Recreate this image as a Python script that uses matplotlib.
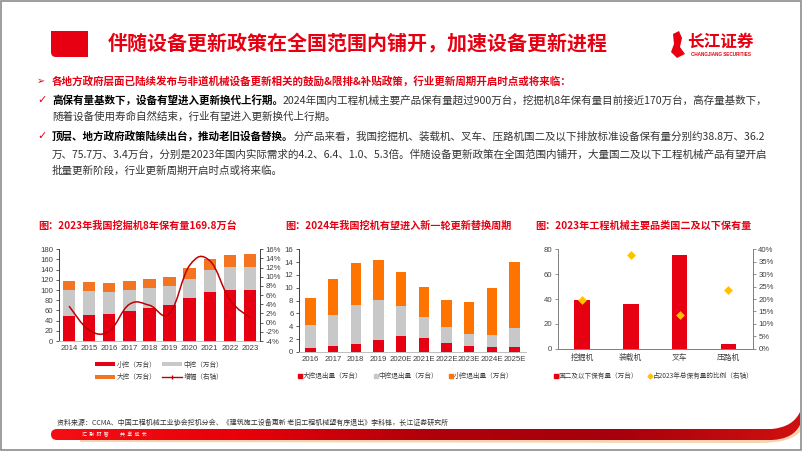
import matplotlib
matplotlib.use('Agg')
import matplotlib.pyplot as plt
import numpy as np
from matplotlib.patches import Rectangle, PathPatch, Polygon
from matplotlib.path import Path
from matplotlib.lines import Line2D
from matplotlib.patches import Patch
from matplotlib.colors import LinearSegmentedColormap

# ---------------- data ----------------
years1 = ['2014', '2015', '2016', '2017', '2018', '2019', '2020', '2021', '2022', '2023']
small1 = [49, 51, 53, 58, 64, 70, 84, 96, 100, 101]
mid1 = [51, 47, 43, 42, 40, 37, 37, 43, 45, 44]
large1 = [18, 18, 18, 18, 18, 19, 22, 22, 23, 25]
growth1 = [3.6, -1.6, -1.8, 4.0, 3.8, 2.0, 12.5, 13.5, 5.0, 1.1]

years2 = ['2016', '2017', '2018', '2019', '2020E', '2021E', '2022E', '2023E', '2024E', '2025E']
large2 = [0.7, 1.0, 1.3, 1.9, 2.5, 2.2, 1.4, 1.0, 0.8, 0.8]
mid2 = [3.5, 4.7, 6.1, 6.2, 4.7, 3.2, 2.5, 1.8, 1.85, 2.9]
small2 = [4.2, 5.6, 6.4, 6.3, 5.3, 4.8, 4.2, 5.0, 7.25, 10.3]

cats3 = ['挖掘机', '装载机', '叉车', '压路机']
stock3 = [38.8, 36.2, 75.7, 3.4]
share3 = [19.5, 37.8, 13.5, 23.7]

# ---------------- setup ----------------
W, H = 802, 451
fig = plt.figure(figsize=(W / 100, H / 100), dpi=100)
CJK = ['Noto Sans CJK SC', 'DejaVu Sans']
NUM = ['Liberation Sans', 'Noto Sans CJK SC']
plt.rcParams['font.family'] = CJK
plt.rcParams['axes.unicode_minus'] = False

RED = '#E60012'
DRED = '#C00000'
GRAY = '#C8C8C8'
ORANGE1 = '#F47421'
ORANGE2 = '#FF7300'
YEL = '#FFC000'
TXT = '#333333'


def fx(x):
    return x / W


def fy(y):
    return 1 - y / H


def ax_box(l, t, r, b):
    return [l / W, 1 - b / H, (r - l) / W, (b - t) / H]


bg = fig.add_axes([0, 0, 1, 1], zorder=0)
bg.set_xlim(0, W)
bg.set_ylim(H, 0)
bg.axis('off')

bg.add_patch(Rectangle((0.5, 0.5), W - 1.5, H - 1.5, fill=False, ec='#8c8c8c', lw=1.2))

# title red block
sq = Path([(51, 31), (88, 31), (88, 57), (56, 57), (51, 57), (51, 52), (51, 31)],
          [Path.MOVETO, Path.LINETO, Path.LINETO, Path.LINETO, Path.CURVE3, Path.CURVE3, Path.CLOSEPOLY])
bg.add_patch(PathPatch(sq, fc=RED, ec='none'))
fig.text(fx(108), fy(44), '伴随设备更新政策在全国范围内铺开，加速设备更新进程', fontsize=14.4,
         fontweight='bold', color=RED, va='center', ha='left', family=CJK)

# logo
bg.add_patch(Polygon([(673, 34), (679, 31), (682, 38), (680, 47), (685, 54), (677, 58), (671, 52), (674, 44)],
                     closed=True, fc=RED, ec='none'))
fig.text(fx(687), fy(42), '长江证券', fontsize=12, fontweight='bold', color=RED, va='center', ha='left', family=CJK)
fig.text(fx(691), fy(54), 'CHANGJIANG SECURITIES', fontsize=3.3, fontweight='bold', color=RED,
         va='center', ha='left', family=NUM)

renderer = fig.canvas.get_renderer()


def runs(x, y, parts, size=7.6):
    for txt, bold, color in parts:
        t = fig.text(fx(x), fy(y), txt, fontsize=size, fontweight='bold' if bold else 'normal',
                     color=color, va='center', ha='left', family=CJK)
        bb = t.get_window_extent(renderer)
        x += bb.width


fig.text(fx(37), fy(81), '➢', fontsize=7, color=RED, va='center', ha='left', family=['DejaVu Sans'])
runs(52, 81, [('各地方政府层面已陆续发布与非道机械设备更新相关的鼓励&限排&补贴政策，行业更新周期开启时点或将来临：', True, RED)])
fig.text(fx(37), fy(100), '✓', fontsize=8, color=RED, va='center', ha='left', family=['DejaVu Sans'])
runs(52, 100, [('高保有量基数下，设备有望进入更新换代上行期。', True, '#000000'),
               ('2024年国内工程机械主要产品保有量超过900万台，挖掘机8年保有量目前接近170万台，高存量基数下，', False, TXT)])
runs(52, 117, [('随着设备使用寿命自然结束，行业有望进入更新换代上行期。', False, TXT)])
fig.text(fx(37), fy(136), '✓', fontsize=8, color=RED, va='center', ha='left', family=['DejaVu Sans'])
runs(52, 136, [('顶层、地方政府政策陆续出台，推动老旧设备替换。', True, '#000000'),
               ('分产品来看，我国挖掘机、装载机、叉车、压路机国二及以下排放标准设备保有量分别约38.8万、36.2', False, TXT)])
runs(52, 154, [('万、75.7万、3.4万台，分别是2023年国内实际需求的4.2、6.4、1.0、5.3倍。伴随设备更新政策在全国范围内铺开，大量国二及以下工程机械产品有望开启', False, TXT)])
runs(52, 171, [('批量更新阶段，行业更新周期开启时点或将来临。', False, TXT)])

# chart titles
for xx, tt in [(38, '图：2023年我国挖掘机8年保有量169.8万台'),
               (285, '图：2024年我国挖机有望进入新一轮更新替换周期'),
               (535, '图：2023年工程机械主要品类国二及以下保有量')]:
    fig.text(fx(xx), fy(226), tt, fontsize=7.3, fontweight='bold', color=RED, va='center', ha='left', family=CJK)

TICKFS = 5.6
LEGFS = 4.8


def style_ticks(ax):
    for lab in ax.get_xticklabels() + ax.get_yticklabels():
        lab.set_family(NUM)
        lab.set_fontsize(TICKFS)
        lab.set_color('#404040')


# ---------------- chart 1 ----------------
ax1 = fig.add_axes(ax_box(59, 249.3, 260, 341), zorder=2)
x1 = np.arange(len(years1))
b1 = np.array(small1)
b2 = b1 + np.array(mid1)
ax1.bar(x1, small1, width=0.62, color=RED, zorder=2)
ax1.bar(x1, mid1, bottom=b1, width=0.62, color=GRAY, zorder=2)
ax1.bar(x1, large1, bottom=b2, width=0.62, color=ORANGE1, zorder=2)
ax1.set_xlim(-0.5, len(years1) - 0.5)
ax1.set_ylim(0, 180)
ax1.set_yticks(range(0, 181, 20))
ax1.set_xticks(x1)
ax1.set_xticklabels(years1)
ax1.spines['top'].set_visible(False)
ax1.spines['right'].set_visible(False)
ax1.spines['left'].set_color('#404040')
ax1.spines['left'].set_linewidth(0.7)
ax1.spines['bottom'].set_color('#bfbfbf')
ax1.spines['bottom'].set_linewidth(0.7)
ax1.tick_params(axis='y', length=2, width=0.6, pad=2, color='#404040')
ax1.tick_params(axis='x', length=0, pad=3)
ax1.patch.set_alpha(0)
style_ticks(ax1)

ax1r = ax1.twinx()
ax1r.set_ylim(-4, 16)
ax1r.set_yticks(range(-4, 17, 2))
ax1r.set_yticklabels([f'{v}%' for v in range(-4, 17, 2)])
for s in ['top', 'left', 'bottom']:
    ax1r.spines[s].set_visible(False)
ax1r.spines['right'].set_color('#404040')
ax1r.spines['right'].set_linewidth(0.7)
ax1r.tick_params(axis='y', length=2, width=0.6, pad=2, color='#404040')
style_ticks(ax1r)


def smooth_path(xs, ys, t=0.2):
    pts = np.column_stack([xs, ys]).astype(float)
    verts = [pts[0]]
    codes = [Path.MOVETO]
    n = len(pts)
    for i in range(n - 1):
        p0 = pts[i - 1] if i > 0 else pts[i]
        p1 = pts[i]
        p2 = pts[i + 1]
        p3 = pts[i + 2] if i + 2 < n else pts[i + 1]
        verts += [p1 + (p2 - p0) * t, p2 - (p3 - p1) * t, p2]
        codes += [Path.CURVE4] * 3
    return Path(verts, codes)


ax1r.add_patch(PathPatch(smooth_path(x1, growth1), fill=False, ec=DRED, lw=1.1, zorder=3))

h1 = [Patch(fc=RED, ec='none'), Patch(fc=ORANGE1, ec='none'), Patch(fc=GRAY, ec='none'),
      Line2D([0], [0], color=DRED, lw=1, marker='|', markersize=3)]
l1 = ['小挖（万台）', '大挖（万台）', '中挖（万台）', '增幅（右轴）']
leg1 = fig.legend(h1, l1, ncol=2,
                  loc='center', bbox_to_anchor=(fx(159), fy(371)), frameon=False,
                  prop={'family': CJK, 'size': LEGFS}, handlelength=3.0, handleheight=0.6,
                  columnspacing=0.8, handletextpad=0.25, labelspacing=0.75, borderpad=0)
for t in leg1.get_texts():
    t.set_color('#404040')

# ---------------- chart 2 ----------------
ax2 = fig.add_axes(ax_box(299, 249.3, 526, 352), zorder=2)
x2 = np.arange(len(years2))
c1 = np.array(large2)
c2 = c1 + np.array(mid2)
ax2.bar(x2, large2, width=0.46, color=RED, zorder=2)
ax2.bar(x2, mid2, bottom=c1, width=0.46, color=GRAY, zorder=2)
ax2.bar(x2, small2, bottom=c2, width=0.46, color=ORANGE2, zorder=2)
ax2.set_xlim(-0.5, len(years2) - 0.5)
ax2.set_ylim(0, 16)
ax2.set_yticks(range(0, 17, 2))
ax2.set_xticks(x2)
ax2.set_xticklabels(years2)
ax2.spines['top'].set_visible(False)
ax2.spines['right'].set_visible(False)
ax2.spines['left'].set_color('#404040')
ax2.spines['left'].set_linewidth(0.7)
ax2.spines['bottom'].set_color('#bfbfbf')
ax2.spines['bottom'].set_linewidth(0.7)
ax2.tick_params(axis='y', length=2, width=0.6, pad=2, color='#404040')
ax2.tick_params(axis='x', length=0, pad=3)
ax2.patch.set_alpha(0)
style_ticks(ax2)

leg2 = fig.legend([Line2D([0], [0], ls='none', marker='s', ms=3, color=RED),
                   Line2D([0], [0], ls='none', marker='s', ms=3, color=GRAY),
                   Line2D([0], [0], ls='none', marker='s', ms=3, color=ORANGE2)],
                  ['大挖退出量（万台）', '中挖退出量（万台）', '小挖退出量（万台）'], ncol=3,
                  loc='center', bbox_to_anchor=(fx(406), fy(376)), frameon=False,
                  prop={'family': CJK, 'size': LEGFS}, handlelength=0.5, columnspacing=1.7,
                  handletextpad=0.15, borderpad=0)
for t in leg2.get_texts():
    t.set_color('#404040')

# ---------------- chart 3 ----------------
ax3 = fig.add_axes(ax_box(557.7, 249.3, 752.7, 348.7), zorder=2)
x3 = np.arange(len(cats3))
ax3.bar(x3, stock3, width=0.32, color=RED, zorder=2)
ax3.set_xlim(-0.5, len(cats3) - 0.5)
ax3.set_ylim(0, 80)
ax3.set_yticks(range(0, 81, 20))
ax3.set_xticks(x3)
ax3.set_xticklabels(cats3)
ax3.spines['top'].set_visible(False)
ax3.spines['right'].set_visible(False)
ax3.spines['left'].set_color('#7f7f7f')
ax3.spines['left'].set_linewidth(0.7)
ax3.spines['bottom'].set_color('#7f7f7f')
ax3.spines['bottom'].set_linewidth(0.7)
ax3.tick_params(axis='y', length=2, width=0.6, pad=2, color='#7f7f7f')
ax3.tick_params(axis='x', length=0, pad=4)
ax3.patch.set_alpha(0)
style_ticks(ax3)
for lab in ax3.get_xticklabels():
    lab.set_family(CJK)

ax3r = ax3.twinx()
ax3r.set_ylim(0, 40)
ax3r.set_yticks(range(0, 41, 5))
ax3r.set_yticklabels([f'{v}%' for v in range(0, 41, 5)])
for s in ['top', 'left', 'bottom']:
    ax3r.spines[s].set_visible(False)
ax3r.spines['right'].set_color('#7f7f7f')
ax3r.spines['right'].set_linewidth(0.7)
ax3r.tick_params(axis='y', length=2, width=0.6, pad=2, color='#7f7f7f')
ax3r.scatter(x3, share3, marker='D', s=20, color=YEL, zorder=4, linewidths=0)
style_ticks(ax3r)

leg3 = fig.legend([Line2D([0], [0], ls='none', marker='s', ms=3, color=RED),
                   Line2D([0], [0], ls='none', marker='D', ms=2.5, color=YEL)],
                  ['国二及以下保有量（万台）', '占2023年总保有量的比例（右轴）'], ncol=2,
                  loc='center', bbox_to_anchor=(fx(654), fy(376)), frameon=False,
                  prop={'family': CJK, 'size': LEGFS}, handlelength=0.5, columnspacing=1.6,
                  handletextpad=0.15, borderpad=0)
for t in leg3.get_texts():
    t.set_color('#404040')

# ---------------- footer ----------------
fig.text(fx(57), fy(423), '资料来源：CCMA、中国工程机械工业协会挖机分会、《建筑施工设备更新 老旧工程机械望有序退出》李科锋，长江证券研究所',
         fontsize=5, color='#333333', va='center', ha='left', family=CJK)

shadow = Path([(80, 438), (770, 438), (792, 437), (800, 425), (800, 432), (790, 443), (760, 443), (80, 442), (80, 438)],
              [Path.MOVETO, Path.LINETO, Path.CURVE3, Path.CURVE3, Path.LINETO, Path.CURVE3, Path.CURVE3,
               Path.LINETO, Path.CLOSEPOLY])
bg.add_patch(PathPatch(shadow, fc='#F9D2B0', ec='none', zorder=1))

band_path = Path([(57, 429), (772, 429), (793, 427), (800, 412), (800, 425), (793, 439), (772, 440),
                  (57, 440), (51, 440), (51, 434.5), (51, 429), (57, 429)],
                 [Path.MOVETO, Path.LINETO, Path.CURVE3, Path.CURVE3, Path.LINETO, Path.CURVE3, Path.CURVE3,
                  Path.LINETO, Path.CURVE3, Path.CURVE3, Path.CURVE3, Path.CURVE3])
band_patch = PathPatch(band_path, fc='none', ec='none', zorder=2)
bg.add_patch(band_patch)
grad = np.linspace(0, 1, 256).reshape(1, -1)
cm = LinearSegmentedColormap.from_list('band', ['#F40F14', '#E8000A', '#B0000A', '#A5000C', '#D01010'])
im = bg.imshow(grad, extent=[51, 800, 441, 410], aspect='auto', cmap=cm, zorder=2)
im.set_clip_path(band_patch)
bg.set_xlim(0, W)
bg.set_ylim(H, 0)
fig.text(fx(82), fy(434.5), '汇  聚  财  智          共  享  成  长', fontsize=3.6, color='#ffffff',
         va='center', ha='left', family=CJK)

fig.savefig('out.png', dpi=100)
